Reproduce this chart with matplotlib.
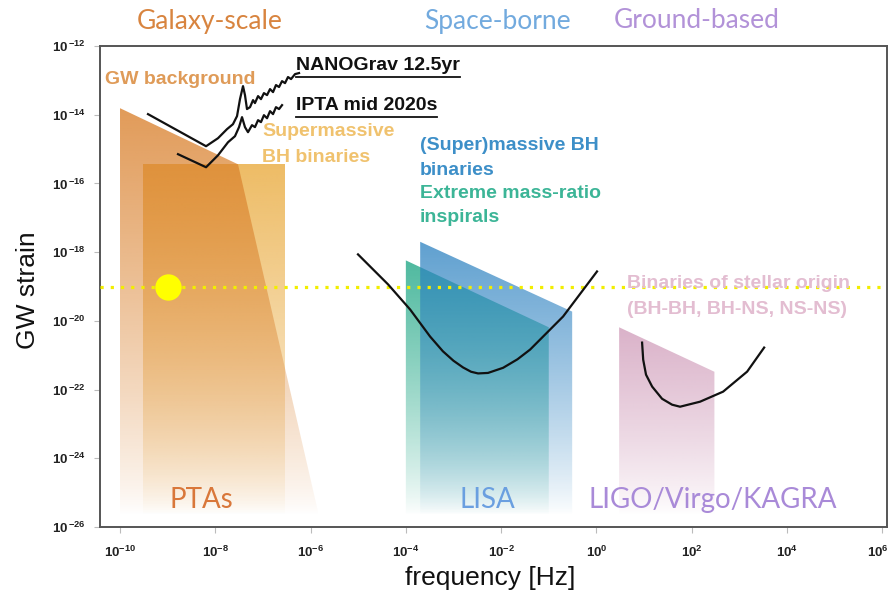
import numpy as np
import matplotlib
matplotlib.use("Agg")
import matplotlib.pyplot as plt
from matplotlib.patches import Polygon
from matplotlib.image import AxesImage
from matplotlib.colors import to_rgb
from matplotlib.ticker import FixedLocator, FuncFormatter, NullLocator
from matplotlib.lines import Line2D
from matplotlib.transforms import ScaledTranslation

plt.rcParams["font.family"] = ["Liberation Sans", "DejaVu Sans"]
plt.rcParams["mathtext.fontset"] = "custom"
plt.rcParams["mathtext.rm"] = "Liberation Sans"
plt.rcParams["mathtext.bf"] = "Liberation Sans:bold"

# ---- source regions (frequency [Hz], GW strain) ----
gwb_freq = [1.0e-10, 3.0e-8, 1.7e-6, 1.0e-10]
gwb_strain = [1.55e-14, 3.6e-16, 1.0e-26, 1.0e-26]

smbhb_freq = [3.0e-10, 2.9e-7, 2.9e-7, 3.0e-10]
smbhb_strain = [3.6e-16, 3.6e-16, 1.0e-26, 1.0e-26]

emri_freq = [1.0e-4, 0.1, 0.1, 1.0e-4]
emri_strain = [5.75e-19, 6.5e-21, 1.0e-26, 1.0e-26]

mbh_freq = [2.0e-4, 0.31, 0.31, 2.0e-4]
mbh_strain = [2.0e-18, 1.86e-20, 1.0e-26, 1.0e-26]

stellar_freq = [3.0, 300.0, 300.0, 3.0]
stellar_strain = [6.5e-21, 3.3e-22, 1.0e-26, 1.0e-26]

# ---- detector sensitivity curves ----
nanograv_freq = [3.87e-10, 6.4e-9, 1.14e-8, 1.76e-8, 2.35e-8, 2.86e-8, 3.30e-8,
                 3.82e-8, 4.2e-8, 4.63e-8, 5.36e-8, 6.2e-8, 6.8e-8, 7.9e-8,
                 9.1e-8, 1.05e-7, 1.22e-7, 1.41e-7, 1.63e-7, 1.88e-7, 2.18e-7,
                 2.52e-7, 2.91e-7, 3.36e-7, 3.89e-7, 4.72e-7, 5.73e-7]
nanograv_strain = [1.04e-14, 1.21e-15, 2.07e-15, 3.8e-15, 5.3e-15, 9.1e-15,
                   2.84e-14, 6.8e-14, 3.72e-14, 1.46e-14, 1.66e-14, 2.66e-14,
                   2.18e-14, 3.48e-14, 2.84e-14, 4.26e-14, 3.72e-14, 5.57e-14,
                   4.55e-14, 7.3e-14, 6.4e-14, 9.5e-14, 8.3e-14, 1.25e-13,
                   1.09e-13, 1.52e-13, 1.63e-13]

ipta_freq = [1.65e-9, 6.4e-9, 1.14e-8, 1.85e-8, 2.59e-8, 3.15e-8, 3.64e-8,
             4.2e-8, 4.86e-8, 5.9e-8, 6.8e-8, 7.9e-8, 9.1e-8, 1.05e-7,
             1.22e-7, 1.41e-7, 1.63e-7, 1.88e-7, 2.18e-7, 2.52e-7]
ipta_strain = [7.1e-16, 2.96e-16, 6.6e-16, 1.58e-15, 2.37e-15, 4.35e-15,
               8.5e-15, 4.35e-15, 3.1e-15, 4.97e-15, 4.35e-15, 6.95e-15,
               6.08e-15, 9.7e-15, 7.9e-15, 1.27e-14, 1.04e-14, 1.66e-14,
               1.46e-14, 1.9e-14]

lisa_freq = [9.9e-6, 4.24e-5, 1.23e-4, 3.23e-4, 6.0e-4, 1.0e-3, 1.59e-3,
             2.34e-3, 3.28e-3, 5.3e-3, 1.1e-2, 2.2e-2, 4.06e-2, 0.2, 1.03]
lisa_strain = [8.6e-19, 1.15e-19, 2.14e-20, 3.49e-21, 1.3e-21, 6.9e-22,
               4.4e-22, 3.3e-22, 2.95e-22, 3.05e-22, 4.3e-22, 7.6e-22,
               1.46e-21, 1.34e-20, 2.74e-19]

ligo_freq = [9.1, 9.6, 11.0, 14.8, 23.9, 38.8, 57.0, 150.0, 457.0, 1460.0, 3320.0]
ligo_strain = [2.33e-21, 7.4e-22, 2.72e-22, 1.22e-22, 5.4e-23, 3.63e-23,
               3.17e-23, 4.44e-23, 8.7e-23, 3.33e-22, 1.67e-21]

# reference strain level and marker
ref_strain = 1.0e-19
marker_freq = 1.0e-9

x_ticks = [1e-10, 1e-8, 1e-6, 1e-4, 1e-2, 1e0, 1e2, 1e4, 1e6]
y_ticks = [1e-26, 1e-24, 1e-22, 1e-20, 1e-18, 1e-16, 1e-14, 1e-12]

W, H = 891, 593
fig = plt.figure(figsize=(W / 100, H / 100), dpi=100)
ax = fig.add_axes([100 / W, 1 - 527 / H, 787 / W, 481 / H])
ax.set_xscale("log")
ax.set_yscale("log")
ax.set_xlim(10 ** -10.42, 10 ** 6.1)
ax.set_ylim(1e-26, 1e-12)


def faded_region(xs, ys, color, alpha_top, z):
    """Polygon filled with a colour that fades to transparent toward the bottom."""
    poly = Polygon(np.column_stack([xs, ys]), closed=True, facecolor="none",
                   edgecolor="none", transform=ax.transData)
    ax.add_patch(poly)
    fig.canvas.draw()
    top_disp = ax.transData.transform((xs[0], max(ys)))
    top_ax = ax.transAxes.inverted().transform(top_disp)[1]
    n = 500
    yy = np.linspace(1, 0, n)
    bottom_ax = 0.025
    t = np.clip((yy - bottom_ax) / (top_ax - bottom_ax), 0, 1)
    rgba = np.zeros((n, 2, 4))
    rgba[..., :3] = to_rgb(color)
    rgba[..., 3] = (alpha_top * t ** 0.8)[:, None]
    im = AxesImage(ax, extent=(0, 1, 0, 1), transform=ax.transAxes,
                   interpolation="bilinear", origin="upper")
    im.set_data(rgba)
    im.set_zorder(z)
    ax.add_image(im)
    im.set_clip_path(poly)


faded_region(smbhb_freq, smbhb_strain, "#e9a93a", 0.78, 1)
faded_region(gwb_freq, gwb_strain, "#d97f2a", 0.78, 2)
faded_region(emri_freq, emri_strain, "#28aa8a", 0.82, 1)
faded_region(mbh_freq, mbh_strain, "#2a80c0", 0.75, 2)
faded_region(stellar_freq, stellar_strain, "#cc94b4", 0.72, 1)

ax.axhline(ref_strain, color="#f2ee00", lw=2.3, ls=(0, (1, 2.2)), zorder=3)
ax.plot([marker_freq], [ref_strain], "o", ms=19, color="#ffff00", mec="none", zorder=4)

curve_kw = dict(color="#111111", lw=1.6, zorder=5, solid_joinstyle="round")
ax.plot(nanograv_freq, nanograv_strain, **curve_kw)
ax.plot(ipta_freq, ipta_strain, **curve_kw)
ax.plot(lisa_freq, lisa_strain, **curve_kw)
ax.plot(ligo_freq, ligo_strain, **curve_kw)

# axes styling
for s in ax.spines.values():
    s.set_color("#555555")
    s.set_linewidth(1.4)
ax.xaxis.set_major_locator(FixedLocator(x_ticks))
ax.yaxis.set_major_locator(FixedLocator(y_ticks))
ax.xaxis.set_minor_locator(NullLocator())
ax.yaxis.set_minor_locator(NullLocator())
ax.xaxis.set_major_formatter(FuncFormatter(
    lambda v, p: r"$\mathbf{10}^{\mathbf{%d}}$" % int(round(np.log10(v)))))
ax.yaxis.set_major_formatter(FuncFormatter(
    lambda v, p: r"$\mathbf{10}^{\,\mathbf{%d}}$" % int(round(np.log10(v)))))
ax.tick_params(axis="both", direction="out", length=4, width=0.8, color="#bbbbbb",
               labelsize=9.5, labelcolor="#222222")
ax.tick_params(axis="x", pad=9)
ax.tick_params(axis="y", pad=6)

# keep the last frequency label inside the canvas
fig.canvas.draw()
last = ax.get_xticklabels()[-1]
last.set_transform(last.get_transform() + ScaledTranslation(-4 / 100, 0, fig.dpi_scale_trans))


def fpos(x, y):
    return x / W, 1 - y / H


def ftext(x, y, s, **kw):
    kw.setdefault("va", "center")
    return fig.text(*fpos(x, y), s, **kw)


gill = ["Lato", "DejaVu Sans"]
ftext(210, 21, "Galaxy-scale", ha="center", fontsize=19, color="#d8843f", family=gill)
ftext(497, 21, "Space-borne", ha="center", fontsize=19, color="#72aade", family=gill)
ftext(697, 21, "Ground-based", ha="center", fontsize=19, color="#b292d8", family=gill)

ftext(201, 500, "PTAs", ha="center", fontsize=20, color="#d9773a", family=gill)
ftext(487, 500, "LISA", ha="center", fontsize=20, color="#6a9fe0", family=gill)
ftext(713, 500, "LIGO/Virgo/KAGRA", ha="center", fontsize=20, color="#a98ad8", family=gill)

bold = dict(fontweight="bold", fontsize=14)
ftext(105, 80, "GW background", ha="left", color="#df9b58", **bold)
ftext(262, 131, "Supermassive", ha="left", color="#f0c26e", **bold)
ftext(262, 158, "BH binaries", ha="left", color="#f0c26e", **bold)
ftext(420, 145, "(Super)massive BH", ha="left", color="#3d8fc8", **bold)
ftext(420, 170, "binaries", ha="left", color="#3d8fc8", **bold)
ftext(420, 193, "Extreme mass-ratio", ha="left", color="#3cb597", **bold)
ftext(420, 217, "inspirals", ha="left", color="#3cb597", **bold)
ftext(627, 284, "Binaries of stellar origin", ha="left", color="#e3bdd1", **bold)
ftext(627, 310, "(BH-BH, BH-NS, NS-NS)", ha="left", color="#e3bdd1", **bold)

t1 = ftext(296, 66, "NANOGrav 12.5yr", ha="left", color="#111111", **bold)
t2 = ftext(296, 106, "IPTA mid 2020s", ha="left", color="#111111", **bold)

ftext(28, 290, "GW strain", ha="center", rotation=90, fontsize=19, color="#111111")
ftext(490, 578, "frequency [Hz]", ha="center", fontsize=19, color="#111111")

# underline the two detector labels
fig.canvas.draw()
renderer = fig.canvas.get_renderer()
for t in (t1, t2):
    bb = t.get_window_extent(renderer)
    y = bb.y0 - 2
    fig.add_artist(Line2D([bb.x0 / W, bb.x1 / W], [y / H, y / H],
                          transform=fig.transFigure, color="#111111", lw=1.3))

fig.savefig("out.png", dpi=100)
